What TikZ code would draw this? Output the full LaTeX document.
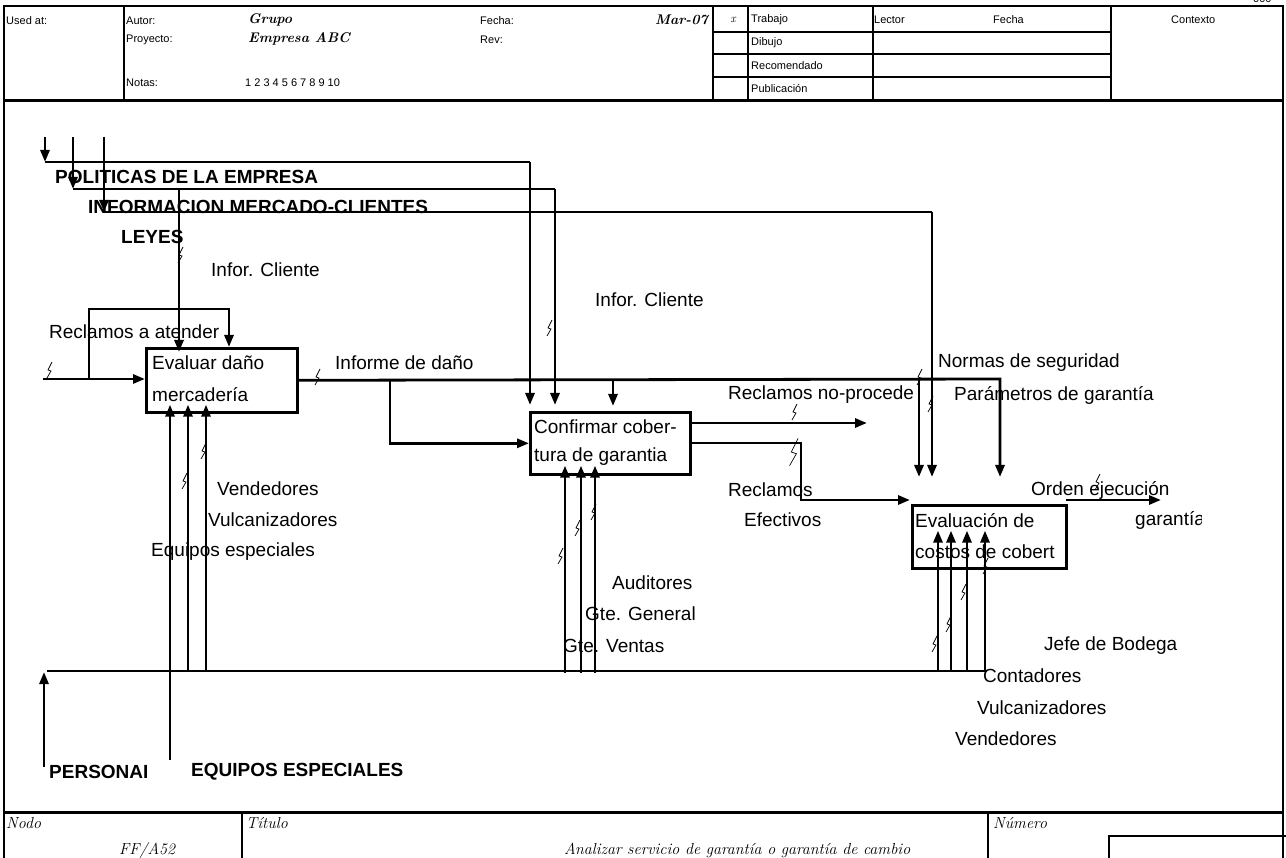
\documentclass[tikz,border=0pt]{standalone}
\usepackage{fontspec}
\setmainfont{Liberation Sans}
\newfontfamily\handf{Latin Modern Roman}
\usetikzlibrary{arrows.meta}
\tikzset{
  fr/.style={line width=2.5pt},
  thk/.style={line width=2.8pt},
  thn/.style={line width=1.2pt},
  arr/.style={-{Triangle[length=12pt,width=9pt]}},
  fnc/.style={draw, line width=2.6pt, inner sep=0pt, anchor=north west},
  lbl/.style={font=\fontsize{19}{19}\selectfont, inner sep=0pt, anchor=west},
  blbl/.style={font=\bfseries\fontsize{19}{19}\selectfont, inner sep=0pt, anchor=west},
  hdr/.style={font=\fontsize{11}{11}\selectfont, inner sep=0pt, anchor=west},
  hnd/.style={font=\handf\itshape\fontsize{16}{16}\selectfont, inner sep=0pt, anchor=west},
  hndb/.style={font=\handf\bfseries\itshape\fontsize{14}{14}\selectfont, inner sep=0pt, anchor=west},
  sq/.pic={\draw[line width=0.7pt] (3,-8) -- (-1,0) -- (2,1) -- (-2,8);}
}
\begin{document}
\begin{tikzpicture}[x=1pt,y=-1pt]
\useasboundingbox (0,0) rectangle (1286,858);
% ---------- frame ----------
\draw[fr] (4,880) -- (4,6) -- (1283,6) -- (1283,880);
\draw[line width=3pt] (4,101) -- (1283,101);
\draw[line width=3pt] (4,812) -- (1283,812);
\foreach \x in {124,713,748,873,1111} \draw[fr] (\x,6) -- (\x,101);
\foreach \y in {32,54,77} \draw[fr] (713,\y) -- (1111,\y);
\draw[fr] (242,812) -- (242,880);
\draw[fr] (988,812) -- (988,880);
\draw[fr] (1109,880) -- (1109,836) -- (1290,836);
% ---------- header texts ----------
\node[hdr, anchor=base west] (pg) at (1253,3) {000};
\node[hdr] (h1) at (6,21) {Used at:};
\node[hdr] (h2) at (126,21) {Autor:};
\node[hdr] (h3) at (126,40) {Proyecto:};
\node[hdr] (h4) at (126,83) {Notas:};
\node[hdr] (h5) at (245,83) {1 2 3 4 5 6 7 8 9 10};
\node[hndb] (h6) at (248,20) {Grupo};
\node[hndb] (h7) at (248,39) {Empresa ABC};
\node[hdr] (h8) at (480,21) {Fecha:};
\node[hdr] (h9) at (480,40) {Rev:};
\node[hndb, anchor=east] (h10) at (708,20) {Mar-07};
\node[hnd, anchor=center, font=\handf\itshape\fontsize{12}{12}\selectfont] (h11) at (733,20) {x};
\node[hdr] (h12) at (751,20) {Trabajo};
\node[hdr] (h13) at (751,43) {Dibujo};
\node[hdr] (h14) at (751,66) {Recomendado};
\node[hdr] (h15) at (751,89) {Publicación};
\node[hdr] (h16) at (874,20) {Lector};
\node[hdr] (h17) at (993,20) {Fecha};
\node[hdr] (h18) at (1171,20) {Contexto};
% ---------- footer ----------
\node[hnd] (f1) at (6,823) {Nodo};
\node[hnd] (f2) at (246,823) {Título};
\node[hnd] (f3) at (993,823) {Número};
\node[hnd] (f4) at (119,850) {FF/A52};
\node[hnd] (f5) at (564,850) {Analizar servicio de garantía o garantía de cambio};
% ---------- activity boxes ----------
\node[fnc, minimum width=151pt, minimum height=64pt] (A1) at (145,347) {};
\node[fnc, minimum width=160pt, minimum height=62pt] (A2) at (529,411) {};
\node[fnc, minimum width=154pt, minimum height=63pt] (A3) at (911,504) {};
\node[lbl] (t1) at (152,363) {Evaluar daño};
\node[lbl] (t2) at (152,395) {mercadería};
\node[lbl] (t3) at (534,427) {Confirmar cober-};
\node[lbl] (t4) at (534,457) {tura de garantia};
\node[lbl] (t5) at (915,521) {Evaluación de};
\node[lbl] (t6) at (915,552) {costos de cobert};
% ---------- controls from the top ----------
\coordinate (ca0) at (45,137);  \coordinate (ca1) at (45,162);
\coordinate (cb0) at (73,137);  \coordinate (cb1) at (73,189);
\coordinate (cc0) at (104,137); \coordinate (cc1) at (104,212);
\draw[thk,arr] (ca0) -- (ca1);
\draw[thk,arr] (cb0) -- (cb1);
\draw[thk,arr] (cc0) -- (cc1);
\coordinate (ca2) at (530,162); \coordinate (ca3) at (530,405);
\coordinate (cb2) at (555,189); \coordinate (cb3) at (555,405);
\coordinate (cc2) at (932,212); \coordinate (cc3) at (932,477);
\draw[thn] (ca1) -- (ca2);
\draw[thn] (cb1) -- (cb2);
\draw[thn] (cc1) -- (cc2);
\draw[thk,arr] (ca2) -- (ca3);
\draw[thk,arr] (cb2) -- (cb3);
\draw[thk,arr] (cc2) -- (cc3);
\coordinate (ic0) at (179,189);
\draw[thk,arr,shorten >=-5pt] (ic0) -- (ic0 |- A1.north);
% ---------- input ----------
\coordinate (in0) at (43,379);
\draw[thk,arr] (in0) -- (in0 -| A1.west);
\coordinate (lp0) at (89,379); \coordinate (lp1) at (229,309);
\draw[thk,arr] (lp0) |- (lp1) -- (lp1 |- A1.north);
% ---------- informe de dano ----------
\coordinate (id0) at (1000,379); \coordinate (id1) at (1000,477);
\draw[thk,arr] (A1.east) -- (id0) -- (id1);
\coordinate (br0) at (390,379);
\draw[thk,arr] (br0) |- (A2.west);
\coordinate (br1) at (613,379); \coordinate (br2) at (613,406);
\draw[thk,arr] (br1) -- (br2);
\coordinate (br3) at (919,379); \coordinate (br4) at (919,477);
\draw[thk,arr] (br3) -- (br4);
% ---------- outputs ----------
\coordinate (o1) at (867,423);
\draw[thk,arr] (o1 -| A2.east) -- (o1);
\coordinate (o2a) at (801,443); \coordinate (o2b) at (910,500);
\draw[thk,arr] (o2a -| A2.east) -- (o2a) |- (o2b);
\coordinate (o3a) at (1066,500); \coordinate (o3b) at (1161,500);
\draw[thk,arr] (o3a) -- (o3b);
% ---------- mechanisms ----------
\coordinate (m0) at (47,671); \coordinate (m1) at (987,671);
\draw[thn] (m0) -- (m1);
\coordinate (pe0) at (44,767); \coordinate (pe1) at (44,672);
\draw[thk,arr] (pe0) -- (pe1);
\coordinate (eq0) at (170,760);
\draw[thk,arr,shorten >=-9pt] (eq0) -- (eq0 |- A1.south);
\foreach \x in {188,206} {\coordinate (mm) at (\x,672); \draw[thk,arr,shorten >=-9pt] (mm) -- (mm |- A1.south);}
\foreach \x in {565,581,595} {\coordinate (mm) at (\x,673); \draw[thk,arr,shorten >=-10pt] (mm) -- (mm |- A2.south);}
\foreach \x in {938,951,967,985} {\coordinate (mm) at (\x,672); \draw[thk,arr,shorten >=-39pt] (mm) -- (mm |- A3.south);}
% ---------- squiggles ----------
\foreach \p in {(49,370),(317,377),(180,255),(549,328),(919,377),(930,404),(794,412),(1097,482),(184,481),(203,451),(560,556),(577,528),(593,512),(934,644),(948,624),(963,592),(985,566)}
  \pic at \p {sq};
\pic[scale=1.7] at (793,452) {sq};
% ---------- labels ----------
\node[lbl] (l1) at (211,270) {Infor. Cliente};
\node[lbl] (l2) at (49,332) {Reclamos a atender};
\node[lbl] (l5) at (335,363) {Informe de daño};
\node[lbl] (l6) at (595,300) {Infor. Cliente};
\node[lbl] (l7) at (938,363) {Normas de seguridad};
\node[lbl] (l8) at (954,395) {Parámetros de garantía};
\begin{scope}
\clip (700,380) rectangle (912,412);
\node[lbl] (l9) at (728,395) {Reclamos no-procede};
\end{scope}
\node[lbl] (l12) at (728,490) {Reclamos};
\node[lbl] (l13) at (744,520) {Efectivos};
\node[lbl] (l16) at (1031,490) {Orden ejecución};
\begin{scope}
\clip (1100,505) rectangle (1201,540);
\node[lbl] (l17) at (1135,520) {garantía};
\end{scope}
\node[lbl] (l18) at (217,489) {Vendedores};
\node[lbl] (l19) at (208,520) {Vulcanizadores};
\node[lbl] (l20) at (151,552) {Equipos especiales};
\node[lbl] (l21) at (612,583) {Auditores};
\node[lbl] (l22) at (585,614) {Gte. General};
\node[lbl] (l23) at (563,646) {Gte. Ventas};
\node[lbl] (l24) at (1044,646) {Jefe de Bodega};
\node[lbl] (l25) at (983,676) {Contadores};
\node[lbl] (l26) at (977,708) {Vulcanizadores};
\node[lbl] (l27) at (955,739) {Vendedores};
\node[blbl] (b1) at (55,177) {POLITICAS DE LA EMPRESA};
\node[blbl] (b2) at (88,207) {INFORMACION MERCADO-CLIENTES};
\node[blbl] (b3) at (121,237) {LEYES};
\begin{scope}
\clip (40,755) rectangle (146,790);
\node[blbl] (b4) at (49,772) {PERSONAL};
\end{scope}
\node[blbl] (b5) at (191,772) {EQUIPOS ESPECIALES};
\end{tikzpicture}
\end{document}
